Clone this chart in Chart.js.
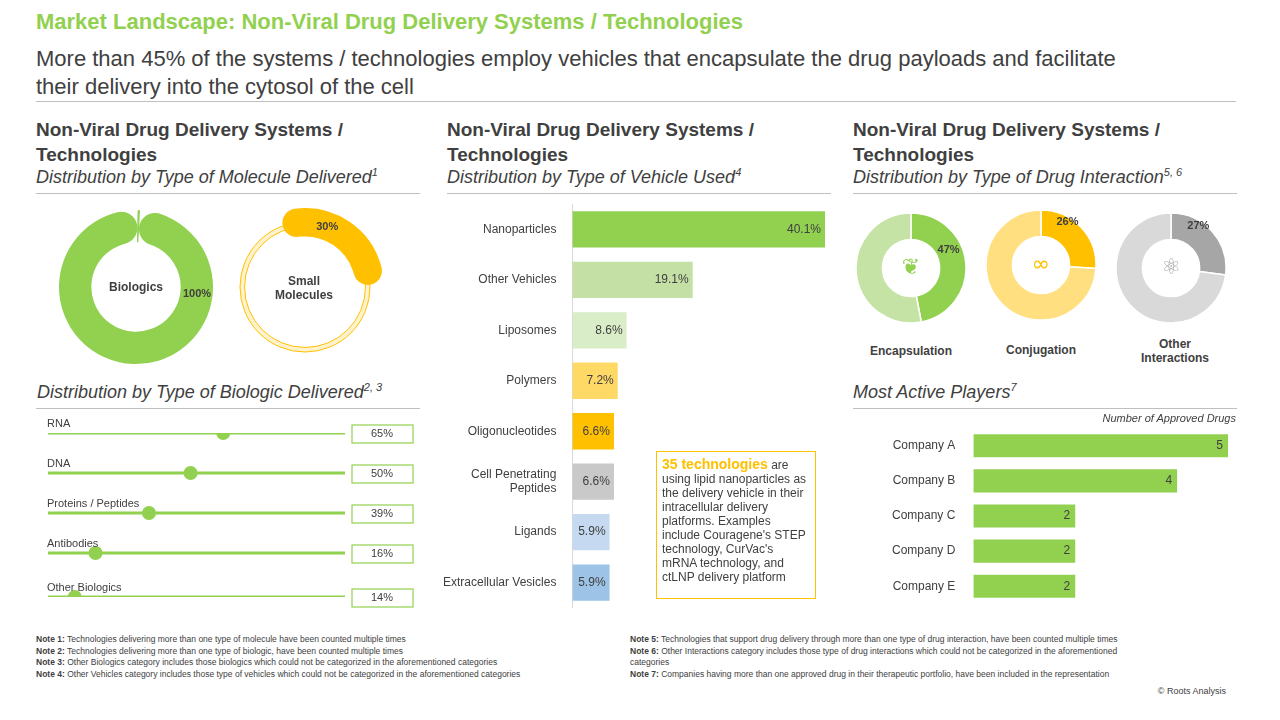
<!DOCTYPE html>
<html>
<head>
<meta charset="utf-8">
<script src="https://cdn.jsdelivr.net/npm/chart.js@4.4.1/dist/chart.umd.min.js"></script>
<style>
  body { margin: 0; width: 1280px; height: 720px; background: #fff; font-family: Arial, 'Liberation Sans', sans-serif; color: #404040; position: relative; overflow: hidden; }
  .abs { position: absolute; }
  .title { left: 36px; top: 9px; font-size: 22px; font-weight: bold; color: #92d050; }
  .sub { left: 36px; top: 45px; font-size: 22px; line-height: 28px; width: 1230px; color: #404040; white-space: nowrap; }
  .rule { height: 1px; background: #bfbfbf; }
  .head { font-size: 19px; font-weight: bold; line-height: 25px; color: #404040; }
  .ital { font-size: 18px; font-style: italic; color: #404040; white-space: nowrap; }
  .ital sup { font-size: 11px; }
  .note { font-size: 8.5px; color: #404040; line-height: 11.5px; }
  .note b { font-weight: bold; }
  .lbl { font-size: 12px; font-weight: bold; color: #404040; text-align: center; }
  .box { left: 656px; top: 451px; width: 148px; height: 136px; border: 1px solid #ffc000; padding: 5px; font-size: 12px; line-height: 14px; color: #404040; }
</style>
</head>
<body>
<div class="abs title">Market Landscape: Non-Viral Drug Delivery Systems / Technologies</div>
<div class="abs sub">More than 45% of the systems / technologies employ vehicles that encapsulate the drug payloads and facilitate<br>their delivery into the cytosol of the cell</div>
<div class="abs rule" style="left:36px;top:101px;width:1200px"></div>

<div class="abs head" style="left:36px;top:117px;width:380px">Non-Viral Drug Delivery Systems / Technologies</div>
<div class="abs ital" style="left:36px;top:166px">Distribution by Type of Molecule Delivered<sup>1</sup></div>
<div class="abs rule" style="left:36px;top:193px;width:384px"></div>

<div class="abs head" style="left:447px;top:117px;width:380px">Non-Viral Drug Delivery Systems / Technologies</div>
<div class="abs ital" style="left:447px;top:166px">Distribution by Type of Vehicle Used<sup>4</sup></div>
<div class="abs rule" style="left:447px;top:193px;width:384px"></div>

<div class="abs head" style="left:853px;top:117px;width:380px">Non-Viral Drug Delivery Systems / Technologies</div>
<div class="abs ital" style="left:853px;top:166px">Distribution by Type of Drug Interaction<sup>5, 6</sup></div>
<div class="abs rule" style="left:853px;top:193px;width:384px"></div>

<div class="abs ital" style="left:37px;top:381px">Distribution by Type of Biologic Delivered<sup>2, 3</sup></div>
<div class="abs rule" style="left:36px;top:408px;width:384px"></div>

<div class="abs ital" style="left:853px;top:381px">Most Active Players<sup>7</sup></div>
<div class="abs rule" style="left:853px;top:408px;width:384px"></div>

<canvas id="molA" class="abs" width="160" height="160" style="left:56px;top:207px"></canvas>
<canvas id="molRing" class="abs" width="170" height="170" style="left:220px;top:202px"></canvas>
<canvas id="molB" class="abs" width="170" height="170" style="left:220px;top:202px"></canvas>
<div class="abs lbl" style="left:96px;top:280px;width:80px">Biologics</div>
<div class="abs lbl" style="left:264px;top:274px;width:80px">Small<br>Molecules</div>

<canvas id="bioChart" class="abs" width="384" height="196" style="left:36px;top:412px"></canvas>
<canvas id="vehChart" class="abs" width="398" height="434" style="left:435px;top:189px"></canvas>
<div class="abs box"><b style="color:#ffc000;font-size:14px">35 technologies</b> are using lipid nanoparticles as the delivery vehicle in their intracellular delivery platforms. Examples include Couragene's STEP technology, CurVac's mRNA technology, and ctLNP delivery platform</div>

<canvas id="intA" class="abs" width="114" height="114" style="left:854px;top:211px"></canvas>
<canvas id="intB" class="abs" width="114" height="114" style="left:984px;top:208px"></canvas>
<canvas id="intC" class="abs" width="114" height="114" style="left:1114px;top:211px"></canvas>
<div class="abs lbl" style="left:861px;top:344px;width:100px">Encapsulation</div>
<div class="abs lbl" style="left:991px;top:343px;width:100px">Conjugation</div>
<div class="abs lbl" style="left:1125px;top:337px;width:100px">Other<br>Interactions</div>

<canvas id="playChart" class="abs" width="358" height="210" style="left:882px;top:411px"></canvas>
<div class="abs" style="left:1000px;top:412px;width:236px;text-align:right;font-size:11px;font-style:italic;color:#404040">Number of Approved Drugs</div>

<div class="abs note" style="left:36px;top:634px;width:580px">
<b>Note 1:</b> Technologies delivering more than one type of molecule have been counted multiple times<br>
<b>Note 2:</b> Technologies delivering more than one type of biologic, have been counted multiple times<br>
<b>Note 3:</b> Other Biologics category includes those biologics which could not be categorized in the aforementioned categories<br>
<b>Note 4:</b> Other Vehicles category includes those type of vehicles which could not be categorized in the aforementioned categories</div>
<div class="abs note" style="left:630px;top:634px;width:560px">
<b>Note 5:</b> Technologies that support drug delivery through more than one type of drug interaction, have been counted multiple times<br>
<b>Note 6:</b> Other Interactions category includes those type of drug interactions which could not be categorized in the aforementioned<br>categories<br>
<b>Note 7:</b> Companies having more than one approved drug in their therapeutic portfolio, have been included in the representation</div>
<div class="abs" style="left:1120px;top:686px;width:106px;text-align:right;font-size:9px;color:#404040">© Roots Analysis</div>

<script>
// Values
const molecules = { biologics: 100, small: 30 };
const biologicTypes = ['RNA', 'DNA', 'Proteins / Peptides', 'Antibodies', 'Other Biologics'];
const biologicShare = [65, 50, 39, 16, 14];
const dotPos = [59, 48, 34, 16, 9];   // slider dot positions as drawn

const vehicles = ['Nanoparticles', 'Other Vehicles', 'Liposomes', 'Polymers', 'Oligonucleotides', ['Cell Penetrating', 'Peptides'], 'Ligands', 'Extracellular Vesicles'];
const vehicleShare = [40.1, 19.1, 8.6, 7.2, 6.6, 6.6, 5.9, 5.9];
const vehicleColors = ['#92d050', '#c5e0a5', '#d9edc8', '#ffd966', '#ffc000', '#c9c9c9', '#c5d9f1', '#9dc3e6'];

const interactions = [
    { id: 'intA', share: 47, main: '#92d050', rest: '#c5e3a5', icon: '\u2766', iconColor: '#92d050' },
    { id: 'intB', share: 26, main: '#ffc000', rest: '#ffdf80', icon: '\u221e', iconColor: '#ffc000' },
    { id: 'intC', share: 27, main: '#a6a6a6', rest: '#d9d9d9', icon: '\u269b', iconColor: '#a6a6a6' }
];

const players = ['Company A', 'Company B', 'Company C', 'Company D', 'Company E'];
const approvedDrugs = [5, 4, 2, 2, 2];

Chart.defaults.font.family = "Arial, 'Liberation Sans', sans-serif";
Chart.defaults.color = '#404040';
Chart.defaults.animation = false;
Chart.defaults.devicePixelRatio = 1;
Chart.defaults.plugins.legend.display = false;
Chart.defaults.plugins.tooltip.enabled = false;

// writes the share text near the middle of the first arc
const arcLabel = (text, dx, dy, size) => ({
    id: 'arcLabel',
    afterDraw(chart) {
        const arc = chart.getDatasetMeta(0).data[0];
        const mid = arc.startAngle + (arc.endAngle - arc.startAngle) * 0.5;
        const r = (arc.innerRadius + arc.outerRadius) / 2;
        const c = chart.ctx;
        c.save();
        c.font = 'bold ' + (size || 11) + 'px Arial';
        c.fillStyle = '#404040';
        c.textAlign = 'center';
        c.textBaseline = 'middle';
        c.fillText(text, arc.x + Math.cos(mid) * r + dx, arc.y + Math.sin(mid) * r + dy);
        c.restore();
    }
});

new Chart(document.getElementById('molA'), {
    type: 'doughnut',
    data: { datasets: [{ data: [molecules.biologics - 0.5, 0.5], backgroundColor: ['#92d050', '#92d050'], borderWidth: 0, borderRadius: 20 }] },
    options: { cutout: '58%', responsive: false, rotation: 3, radius: 77 },
    plugins: [{
        id: 'lbl',
        afterDraw(chart) {
            const c = chart.ctx;
            c.save(); c.font = 'bold 11px Arial'; c.fillStyle = '#404040'; c.textAlign = 'center'; c.textBaseline = 'middle';
            c.fillText(molecules.biologics + '%', 141, 87);
            c.restore();
        }
    }]
});

new Chart(document.getElementById('molRing'), {
    type: 'doughnut',
    data: { datasets: [{ data: [100], backgroundColor: ['#fff2cc'], borderColor: '#ffc000', borderWidth: 1 }] },
    options: { cutout: '93%', responsive: false, radius: 65 }
});

new Chart(document.getElementById('molB'), {
    type: 'doughnut',
    data: { datasets: [{ data: [molecules.small, 100 - molecules.small], backgroundColor: ['#ffc000', 'rgba(0,0,0,0)'], borderWidth: 0, borderRadius: 16 }] },
    options: { cutout: '64%', responsive: false, rotation: -20, radius: 79 },
    plugins: [arcLabel(molecules.small + '%', -14, -6)]
});

interactions.forEach(d => {
    new Chart(document.getElementById(d.id), {
        type: 'doughnut',
        data: { datasets: [{ data: [d.share, 100 - d.share], backgroundColor: [d.main, d.rest], borderColor: '#fff', borderWidth: 1.5 }] },
        options: { cutout: '52%', responsive: false, radius: 55 },
        plugins: [arcLabel(d.share + '%', -4, -14), {
            id: 'icon',
            afterDraw(chart) {
                const c = chart.ctx;
                c.save(); c.font = '22px DejaVu Sans'; c.fillStyle = d.iconColor; c.textAlign = 'center'; c.textBaseline = 'middle';
                c.fillText(d.icon, chart.width / 2, chart.height / 2);
                c.restore();
            }
        }]
    });
});

// sliders: tracks and dots on a 0-100 scale
const rowsY = [0, 1, 2, 3, 4.1];
const sliderData = [];
biologicTypes.forEach((t, i) => {
    sliderData.push({ type: 'line', data: [{ x: 0, y: rowsY[i] }, { x: 100, y: rowsY[i] }], borderColor: '#92d050', borderWidth: 3, pointRadius: 0 });
});
sliderData.push({ type: 'scatter', data: dotPos.map((v, i) => ({ x: v, y: rowsY[i] })), backgroundColor: '#92d050', pointRadius: 7, borderWidth: 0 });

new Chart(document.getElementById('bioChart'), {
    type: 'scatter',
    data: { datasets: sliderData },
    options: {
        responsive: false,
        layout: { padding: { left: 12, right: 75, top: 21, bottom: 11 } },
        scales: {
            x: { type: 'linear', min: 0, max: 100, display: false },
            y: { type: 'linear', min: 0, max: 4.1, reverse: true, display: false }
        }
    },
    plugins: [{
        id: 'sliderText',
        afterDraw(chart) {
            const c = chart.ctx, xs = chart.scales.x, ys = chart.scales.y;
            c.save();
            biologicTypes.forEach((t, i) => {
                const y = ys.getPixelForValue(rowsY[i]);
                c.font = '11px Arial'; c.fillStyle = '#404040'; c.textAlign = 'left'; c.textBaseline = 'bottom';
                c.fillText(t, xs.left - 1, y - 4);
                const bx = xs.right + 7;
                c.strokeStyle = '#92d050'; c.lineWidth = 1.2;
                c.strokeRect(bx, y - 8, 61, 18);
                c.textAlign = 'center'; c.textBaseline = 'middle';
                c.fillText(biologicShare[i] + '%', bx + 30, y + 1);
            });
            c.restore();
        }
    }]
});

new Chart(document.getElementById('vehChart'), {
    type: 'bar',
    data: { labels: vehicles, datasets: [{ data: vehicleShare, backgroundColor: vehicleColors, barPercentage: 0.72, categoryPercentage: 1 }] },
    options: {
        indexAxis: 'y',
        responsive: false,
        layout: { padding: { right: 8 } },
        scales: {
            x: { min: 0, max: 40.1, display: false },
            y: { grid: { display: false }, border: { color: '#d9d9d9' }, ticks: { font: { size: 12 }, color: '#404040', padding: 8 } }
        }
    },
    plugins: [{
        id: 'vals',
        afterDraw(chart) {
            const c = chart.ctx;
            c.save(); c.font = '12px Arial'; c.fillStyle = '#404040'; c.textAlign = 'right'; c.textBaseline = 'middle';
            chart.getDatasetMeta(0).data.forEach((b, i) => c.fillText(vehicleShare[i].toFixed(1) + '%', b.x - 4, b.y));
            c.restore();
        }
    }]
});

new Chart(document.getElementById('playChart'), {
    type: 'bar',
    data: { labels: players, datasets: [{ data: approvedDrugs, backgroundColor: '#92d050', barPercentage: 0.66, categoryPercentage: 1 }] },
    options: {
        indexAxis: 'y',
        responsive: false,
        layout: { padding: { right: 12 } },
        scales: {
            x: { min: 0, max: 5, display: false },
            y: { grid: { display: false }, border: { display: false }, ticks: { font: { size: 12 }, color: '#404040', padding: 10 } }
        }
    },
    plugins: [{
        id: 'vals',
        afterDraw(chart) {
            const c = chart.ctx;
            c.save(); c.font = '12px Arial'; c.fillStyle = '#404040'; c.textAlign = 'right'; c.textBaseline = 'middle';
            chart.getDatasetMeta(0).data.forEach((b, i) => c.fillText(approvedDrugs[i], b.x - 5, b.y));
            c.restore();
        }
    }]
});
</script>
</body>
</html>
